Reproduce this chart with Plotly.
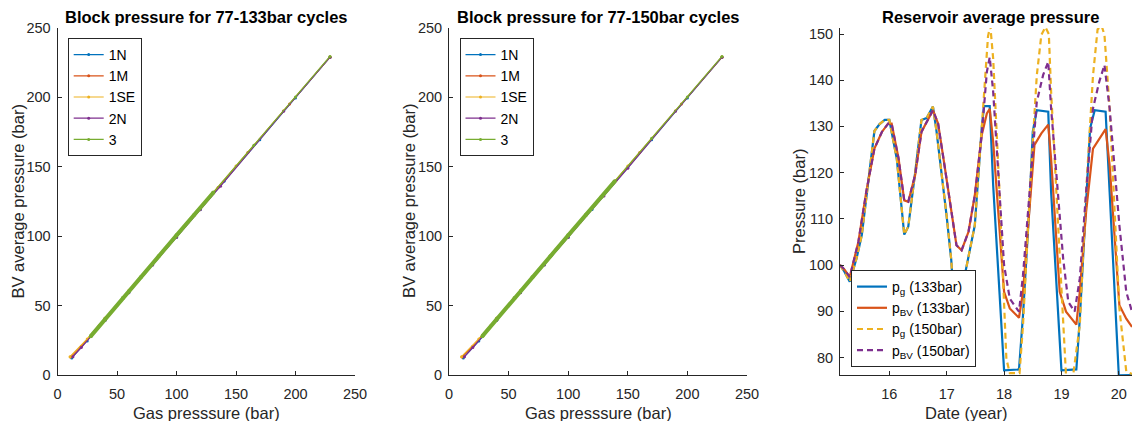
import plotly.graph_objects as go

# ---------------- Data ----------------
# Panel 1: Block pressure for 77-133bar cycles (gas pressure vs BV average pressure)
p1_1N_gas = [229, 200, 170, 140, 120, 100, 80, 60, 40, 25, 12]
p1_1N_bv = [229, 199.5, 169.5, 139.5, 119.3, 99.3, 79.5, 59.5, 39.5, 24.5, 12.3]
p1_1M_gas = [229, 195, 160, 135, 110, 85, 60, 35, 20, 11]
p1_1M_bv = [229, 195.3, 160.3, 135, 110.3, 85.5, 60.5, 35.5, 20.8, 13]
p1_1SE_gas = [229, 190, 150, 120, 90, 60, 40, 25, 10.5]
p1_1SE_bv = [229.3, 190.3, 150.5, 120.5, 90.8, 61, 41, 26, 13.2]
p1_2N_gas = [229, 190, 137, 120, 100, 80, 60, 40, 20, 13]
p1_2N_bv = [229, 190, 136, 119, 99, 79.3, 59.3, 39.5, 19.8, 13.2]
p1_3_gas = [229, 200, 165, 131]
p1_3_bv = [229.5, 200.3, 165.5, 131.5]
p1_3c_gas = [28, 40, 55, 70, 85, 100, 115, 131]
p1_3c_bv = [28, 40.3, 55.5, 70.5, 85.5, 100.6, 115.5, 131.5]

# Panel 2: Block pressure for 77-150bar cycles
p2_1N_gas = [229, 200, 170, 150, 120, 100, 80, 60, 40, 25, 12]
p2_1N_bv = [229, 199.5, 169.5, 149.5, 119.3, 99.3, 79.5, 59.5, 39.5, 24.5, 12.3]
p2_1M_gas = [229, 195, 160, 140, 110, 85, 60, 35, 20, 11]
p2_1M_bv = [229, 195.3, 160.3, 140, 110.3, 85.5, 60.5, 35.5, 20.8, 13]
p2_1SE_gas = [229, 190, 150, 120, 90, 60, 40, 25, 10.5]
p2_1SE_bv = [229.3, 190.3, 150.5, 120.5, 90.8, 61, 41, 26, 13.2]
p2_2N_gas = [229, 190, 150, 130, 100, 80, 60, 40, 20, 13]
p2_2N_bv = [229, 190, 149, 129, 99, 79.3, 59.3, 39.5, 19.8, 13.2]
p2_3_gas = [229, 200, 170, 139]
p2_3_bv = [229.5, 200.3, 170.5, 139.5]
p2_3c_gas = [28, 40, 55, 70, 85, 100, 115, 128, 139]
p2_3c_bv = [28, 40.3, 55.5, 70.5, 85.5, 100.6, 115.5, 128.5, 139.5]

# Panel 3: Reservoir average pressure
t_pg133 = [15.14, 15.22, 15.31, 15.43, 15.52, 15.63, 15.74, 15.83, 15.92, 16.0, 16.13, 16.26, 16.33,
           16.45, 16.56, 16.65, 16.76, 16.82, 16.91, 17.0, 17.08, 17.12, 17.25, 17.38, 17.49, 17.61,
           17.65, 17.75, 17.81, 18.0, 18.26, 18.33, 18.45, 18.5, 18.57, 18.77, 18.82, 19.0, 19.26,
           19.32, 19.43, 19.5, 19.58, 19.77, 19.84, 20.0, 20.23]
pg133 = [100, 98.5, 96.4, 101.5, 106.5, 118, 129, 130.5, 131.4, 131.4, 123, 106.6, 108.3,
         120, 131.4, 131.8, 134.3, 129.2, 120, 110.5, 101, 93.1, 93.8, 101.4, 108.6, 129.6,
         134.4, 134.4, 117.3, 77.2, 77.4, 89.1, 114.4, 128.8, 133.5, 133.2, 115.8, 77.2, 77.4,
         88.4, 112.3, 129.6, 133.5, 133.2, 115.8, 76.1, 76.2]

t_pbv133 = [15.14, 15.22, 15.31, 15.46, 15.6, 15.74, 15.87, 15.98, 16.04, 16.16, 16.26, 16.33, 16.45,
            16.56, 16.76, 16.85, 16.97, 17.17, 17.26, 17.38, 17.49, 17.61, 17.7, 17.75, 17.81, 17.92,
            18.0, 18.1, 18.26, 18.33, 18.45, 18.53, 18.65, 18.77, 18.82, 18.97, 19.08, 19.26, 19.32,
            19.43, 19.55, 19.66, 19.77, 19.84, 19.95, 20.01, 20.13, 20.23]
pbv133 = [100, 99, 97.4, 105, 116, 125.2, 128.8, 130.6, 130.6, 123.1, 114, 113.7, 119.5,
          128.8, 133.5, 130.6, 120.9, 104.3, 103.2, 107.2, 115.1, 128.1, 132.8, 133.8, 126.7, 108.6,
          94.2, 90.6, 88.6, 94.2, 113.7, 126, 128.5, 130.4, 123, 94.2, 89.9, 87.1, 94.2,
          111.5, 125.2, 127.4, 129.4, 121.6, 101.4, 91.3, 88.4, 86.6]

t_pg150 = [15.14, 15.22, 15.31, 15.43, 15.52, 15.63, 15.74, 15.83, 15.92, 16.0, 16.13, 16.26, 16.33,
           16.45, 16.56, 16.65, 16.76, 16.82, 16.91, 17.0, 17.08, 17.12, 17.25, 17.38, 17.49, 17.61,
           17.67, 17.72, 17.76, 17.81, 17.92, 18.04, 18.1, 18.27, 18.33, 18.45, 18.57, 18.65, 18.72,
           18.78, 18.82, 18.97, 19.08, 19.2, 19.32, 19.43, 19.55, 19.63, 19.7, 19.75, 19.84, 20.01,
           20.13, 20.23]
pg150 = [100, 98.5, 96.4, 101.5, 106.5, 118, 129, 130.5, 131.4, 131.4, 123, 106.6, 108.3,
         120, 131.4, 131.8, 134.3, 129.2, 120, 110.5, 101, 93.1, 93.8, 101.4, 108.6, 129.6,
         140, 149.5, 151.8, 144.7, 115.8, 79.7, 76.6, 76.6, 87, 116, 141, 149.8, 151.5,
         150, 137.5, 101.4, 76, 75.8, 87, 115.8, 141, 151, 151.8, 149.8, 133.9, 90.6,
         77, 76.4]

t_pbv150 = [15.14, 15.22, 15.31, 15.46, 15.6, 15.74, 15.87, 15.98, 16.04, 16.16, 16.26, 16.33, 16.45,
            16.56, 16.76, 16.85, 16.97, 17.17, 17.26, 17.38, 17.49, 17.61, 17.7, 17.75, 17.81, 17.92,
            18.0, 18.1, 18.26, 18.33, 18.45, 18.57, 18.68, 18.77, 18.82, 18.94, 19.03, 19.12, 19.23,
            19.32, 19.43, 19.55, 19.66, 19.75, 19.84, 20.01, 20.13, 20.23]
pbv150 = [100, 99, 97.4, 105, 116, 125.2, 128.8, 130.6, 130.6, 123.1, 114, 113.7, 119.5,
          128.8, 133.5, 130.6, 120.9, 104.3, 103.2, 107.2, 115.1, 128.1, 141.8, 145, 137.5, 115.8,
          100, 92.7, 89.9, 97.8, 117.3, 135.3, 141.1, 144, 133.9, 115.8, 101.4, 92, 89.9,
          97.1, 115.8, 133.9, 139.7, 143.3, 133.9, 108.6, 94.2, 89.9]

block_names = ["1N", "1M", "1SE", "2N", "3"]
colors = ["#0072BD", "#D95319", "#EDB120", "#7E2F8E", "#77AC30"]

# ---------------- Figure ----------------
W, H = 1132, 421
FONT = "Liberation Sans, Arial, sans-serif"
AX = "#262626"

def px_x(p):
    return p / W

def px_y(p):
    return (H - p) / H

fig = go.Figure()

panel_data = [
    ([(p1_1N_gas, p1_1N_bv), (p1_1M_gas, p1_1M_bv), (p1_1SE_gas, p1_1SE_bv), (p1_2N_gas, p1_2N_bv), (p1_3_gas, p1_3_bv)],
     (p1_3c_gas, p1_3c_bv)),
    ([(p2_1N_gas, p2_1N_bv), (p2_1M_gas, p2_1M_bv), (p2_1SE_gas, p2_1SE_bv), (p2_2N_gas, p2_2N_bv), (p2_3_gas, p2_3_bv)],
     (p2_3c_gas, p2_3c_bv)),
]

for k, (series, cyc) in enumerate(panel_data):
    xa = "x" if k == 0 else "x2"
    ya = "y" if k == 0 else "y2"
    lg = "legend" if k == 0 else "legend2"
    for i, (gx, gy) in enumerate(series):
        fig.add_trace(go.Scatter(
            x=gx, y=gy, mode="lines+markers", name=block_names[i],
            line=dict(color=colors[i], width=1.2),
            marker=dict(color=colors[i], size=3),
            xaxis=xa, yaxis=ya, legend=lg, legendgroup=f"{k}{i}",
        ))
    # thick cycling part of block 3
    fig.add_trace(go.Scatter(
        x=cyc[0], y=cyc[1], mode="lines+markers", name="3", showlegend=False,
        line=dict(color=colors[4], width=4),
        marker=dict(color=colors[4], size=4),
        xaxis=xa, yaxis=ya, legend=lg, legendgroup=f"{k}4",
    ))

res_series = [
    (t_pg133, pg133, "p<sub>g</sub> (133bar)", "#0072BD", "solid"),
    (t_pbv133, pbv133, "p<sub>BV</sub> (133bar)", "#D95319", "solid"),
    (t_pg150, pg150, "p<sub>g</sub> (150bar)", "#EDB120", "6px,4px"),
    (t_pbv150, pbv150, "p<sub>BV</sub> (150bar)", "#7E2F8E", "6px,4px"),
]
for t, p, nm, c, d in res_series:
    fig.add_trace(go.Scatter(
        x=t, y=p, mode="lines", name=nm,
        line=dict(color=c, width=2.2, dash=d),
        xaxis="x3", yaxis="y3", legend="legend3",
    ))

axis_common = dict(
    showline=True, linecolor=AX, linewidth=1, ticks="inside", ticklen=4,
    tickcolor=AX, tickfont=dict(family=FONT, size=14.5, color=AX),
    showgrid=False, zeroline=False, mirror=False, automargin=False,
)
xax = dict(ticklabelstandoff=6, **axis_common)
yax = dict(ticklabelstandoff=3, **axis_common)

y_dom = [px_y(375), px_y(28)]
fig.update_layout(
    width=W, height=H, margin=dict(l=0, r=0, t=0, b=0, autoexpand=False),
    paper_bgcolor="white", plot_bgcolor="white",
    showlegend=True,
    xaxis=dict(domain=[px_x(57.5), px_x(355)], range=[0, 250], tickvals=[0, 50, 100, 150, 200, 250],
               anchor="y", **xax),
    yaxis=dict(domain=y_dom, range=[0, 250], tickvals=[0, 50, 100, 150, 200, 250], anchor="x", **yax),
    xaxis2=dict(domain=[px_x(449), px_x(747)], range=[0, 250], tickvals=[0, 50, 100, 150, 200, 250],
                anchor="y2", **xax),
    yaxis2=dict(domain=y_dom, range=[0, 250], tickvals=[0, 50, 100, 150, 200, 250], anchor="x2", **yax),
    xaxis3=dict(domain=[px_x(840), 1.0], range=[15.14, 20.23], tickvals=[16, 17, 18, 19, 20],
                anchor="y3", **xax),
    yaxis3=dict(domain=y_dom, range=[76.2, 151.3], tickvals=[80, 90, 100, 110, 120, 130, 140, 150],
                anchor="x3", **yax),
)

leg_common = dict(
    bgcolor="white", bordercolor=AX, borderwidth=1,
    font=dict(family=FONT, size=14, color="black"),
    xanchor="left", yanchor="top", tracegroupgap=0, itemwidth=30,
)
fig.update_layout(
    legend=dict(x=px_x(67.7), y=px_y(38), **leg_common),
    legend2=dict(x=px_x(459.5), y=px_y(38), **leg_common),
    legend3=dict(x=px_x(851), y=px_y(270), **leg_common),
)

annotations = []
# titles
for cx, txt in [(206.2, "Block pressure for 77-133bar cycles"),
                (598, "Block pressure for 77-150bar cycles"),
                (990, "Reservoir average pressure")]:
    annotations.append(dict(x=px_x(cx), y=px_y(16.5), xref="paper", yref="paper", text=f"<b>{txt}</b>",
                            showarrow=False, xanchor="center", yanchor="middle",
                            font=dict(family=FONT, size=16.5, color="black")))
# x-axis titles
for cx, txt in [(206.2, "Gas presssure (bar)"), (598, "Gas presssure (bar)"), (966, "Date (year)")]:
    annotations.append(dict(x=px_x(cx), y=px_y(412.5), xref="paper", yref="paper", text=txt,
                            showarrow=False, xanchor="center", yanchor="middle",
                            font=dict(family=FONT, size=16.5, color=AX)))
# y-axis titles
for cx, txt in [(17, "BV average pressure (bar)"), (408.5, "BV average pressure (bar)"), (798.5, "Pressure (bar)")]:
    annotations.append(dict(x=px_x(cx), y=px_y(201.5), xref="paper", yref="paper", text=txt,
                            showarrow=False, xanchor="center", yanchor="middle", textangle=-90,
                            font=dict(family=FONT, size=16.5, color=AX)))
fig.update_layout(annotations=annotations)

fig.write_html("out.html")
